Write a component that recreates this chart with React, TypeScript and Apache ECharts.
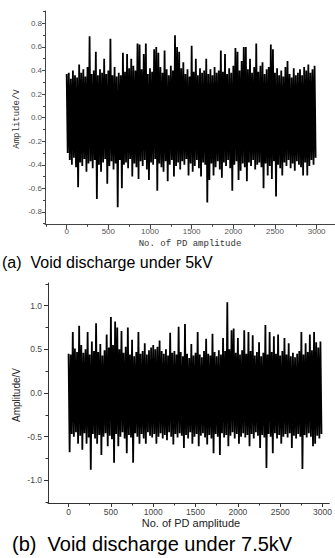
import React, { useEffect, useRef } from "react";
import * as echarts from "echarts";

// Chart (a): Void discharge under 5kV — positive and negative peaks of the pulse train
const A_UP = [
  0.37, 0.38, 0.33, 0.40, 0.36, 0.34, 0.45, 0.38, 0.41, 0.35,
  0.43, 0.69, 0.37, 0.40, 0.56, 0.36, 0.41, 0.38, 0.50, 0.37,
  0.40, 0.67, 0.36, 0.43, 0.35, 0.38, 0.36, 0.55, 0.39, 0.54,
  0.42, 0.50, 0.44, 0.40, 0.63, 0.62, 0.41, 0.54, 0.63, 0.37,
  0.42, 0.39, 0.58, 0.60, 0.55, 0.43, 0.38, 0.57, 0.41, 0.36,
  0.44, 0.40, 0.70, 0.60, 0.56, 0.42, 0.47, 0.37, 0.41, 0.35,
  0.61, 0.39, 0.50, 0.36, 0.42, 0.38, 0.40, 0.50, 0.37, 0.41,
  0.36, 0.43, 0.38, 0.40, 0.57, 0.39, 0.54, 0.37, 0.42, 0.38,
  0.44, 0.59, 0.56, 0.40, 0.48, 0.60, 0.60, 0.41, 0.50, 0.38,
  0.43, 0.63, 0.39, 0.44, 0.47, 0.37, 0.41, 0.43, 0.62, 0.58,
  0.38, 0.42, 0.36, 0.40, 0.35, 0.43, 0.48, 0.37, 0.34, 0.42,
  0.36, 0.38, 0.41, 0.36, 0.43, 0.40, 0.45, 0.38, 0.41, 0.44,
];
const A_LO = [
  -0.30, -0.36, -0.40, -0.34, -0.42, -0.59, -0.38, -0.41, -0.35, -0.46,
  -0.39, -0.37, -0.43, -0.36, -0.69, -0.40, -0.46, -0.38, -0.35, -0.56,
  -0.41, -0.37, -0.44, -0.39, -0.76, -0.36, -0.60, -0.40, -0.38, -0.43,
  -0.35, -0.50, -0.39, -0.42, -0.52, -0.37, -0.41, -0.36, -0.44, -0.53,
  -0.38, -0.40, -0.35, -0.62, -0.39, -0.42, -0.46, -0.37, -0.54, -0.40,
  -0.36, -0.50, -0.41, -0.38, -0.44, -0.37, -0.40, -0.35, -0.49, -0.39,
  -0.46, -0.41, -0.36, -0.43, -0.50, -0.38, -0.40, -0.72, -0.53, -0.39,
  -0.49, -0.42, -0.37, -0.44, -0.51, -0.38, -0.41, -0.36, -0.43, -0.62,
  -0.40, -0.37, -0.53, -0.45, -0.39, -0.42, -0.54, -0.38, -0.41, -0.36,
  -0.44, -0.40, -0.38, -0.42, -0.60, -0.39, -0.49, -0.41, -0.52, -0.37,
  -0.67, -0.40, -0.43, -0.49, -0.38, -0.41, -0.36, -0.43, -0.39, -0.45,
  -0.37, -0.40, -0.42, -0.49, -0.38, -0.49, -0.41, -0.36, -0.40, -0.34,
];

// Chart (b): Void discharge under 7.5kV
const B_UP = [
  0.45, 0.44, 0.70, 0.51, 0.47, 0.77, 0.55, 0.46, 0.50, 0.70,
  0.44, 0.59, 0.48, 0.80, 0.47, 0.56, 0.43, 0.49, 0.67, 0.52,
  0.87, 0.55, 0.82, 0.75, 0.50, 0.71, 0.46, 0.53, 0.75, 0.44,
  0.61, 0.42, 0.47, 0.70, 0.45, 0.48, 0.57, 0.44, 0.49, 0.52,
  0.55, 0.50, 0.53, 0.60, 0.48, 0.45, 0.50, 0.43, 0.69, 0.46,
  0.48, 0.44, 0.76, 0.47, 0.42, 0.79, 0.45, 0.40, 0.56, 0.43,
  0.46, 0.70, 0.44, 0.41, 0.48, 0.62, 0.45, 0.43, 0.68, 0.47,
  0.42, 0.49, 0.44, 0.63, 0.48, 1.04, 0.50, 0.72, 0.74, 0.46,
  0.63, 0.44, 0.49, 0.72, 0.45, 0.70, 0.48, 0.66, 0.43, 0.47,
  0.58, 0.42, 0.46, 0.78, 0.44, 0.70, 0.47, 0.65, 0.45, 0.67,
  0.43, 0.48, 0.63, 0.44, 0.57, 0.42, 0.46, 0.41, 0.45, 0.48,
  0.70, 0.44, 0.57, 0.47, 0.67, 0.49, 0.70, 0.58, 0.52, 0.59,
];
const B_LO = [
  -0.68, -0.47, -0.50, -0.45, -0.58, -0.49, -0.65, -0.46, -0.58, -0.51,
  -0.88, -0.47, -0.52, -0.58, -0.48, -0.71, -0.50, -0.46, -0.61, -0.49,
  -0.53, -0.80, -0.47, -0.61, -0.50, -0.45, -0.52, -0.69, -0.48, -0.51,
  -0.80, -0.46, -0.50, -0.58, -0.47, -0.52, -0.58, -0.45, -0.49, -0.51,
  -0.47, -0.58, -0.50, -0.46, -0.52, -0.48, -0.54, -0.45, -0.50, -0.59,
  -0.47, -0.51, -0.46, -0.49, -0.63, -0.48, -0.52, -0.45, -0.58, -0.50,
  -0.47, -0.61, -0.49, -0.46, -0.51, -0.59, -0.48, -0.52, -0.69, -0.47,
  -0.50, -0.71, -0.46, -0.51, -0.48, -0.61, -0.49, -0.45, -0.52, -0.47,
  -0.58, -0.50, -0.46, -0.51, -0.48, -0.61, -0.47, -0.52, -0.45, -0.49,
  -0.63, -0.48, -0.51, -0.86, -0.47, -0.50, -0.69, -0.46, -0.52, -0.48,
  -0.58, -0.50, -0.47, -0.51, -0.46, -0.63, -0.49, -0.52, -0.47, -0.50,
  -0.87, -0.48, -0.51, -0.46, -0.50, -0.61, -0.58, -0.49, -0.52, -0.47,
];

// Spacing between successive pulses on the x axis ("No. of PD amplitude")
const STEP = 25;

// Tick values
const X_MAJOR = [0, 500, 1000, 1500, 2000, 2500, 3000];
const A_X_MINOR = [-250, 250, 750, 1250, 1750, 2250, 2750];
const B_X_MINOR = [250, 750, 1250, 1750, 2250, 2750];
const A_Y_MAJOR = [-0.8, -0.6, -0.4, -0.2, 0, 0.2, 0.4, 0.6, 0.8];
const A_Y_MINOR = [-0.9, -0.7, -0.5, -0.3, -0.1, 0.1, 0.3, 0.5, 0.7, 0.9];
const B_Y_MAJOR = [-1.0, -0.5, 0, 0.5, 1.0];
const B_Y_MINOR = [-1.25, -0.75, -0.25, 0.25, 0.75, 1.25];

const TITLE_A = "(a)  Void discharge under 5kV";
const TITLE_B = "(b)  Void discharge under 7.5kV";
const X_NAME = "No. of PD amplitude";
const Y_NAME = "Amplitude/V";

function toZigzag(up: number[], lo: number[]): number[][] {
  const out: number[][] = [];
  for (let i = 0; i < up.length; i++) {
    out.push([i * STEP, up[i]]);
    out.push([i * STEP + STEP / 2, lo[i]]);
  }
  return out;
}

export default function App() {
  const ref = useRef<HTMLDivElement>(null);

  useEffect(() => {
    document.body.style.margin = "0";
    if (!ref.current) return;
    const chart = echarts.init(ref.current, undefined, { renderer: "svg" });

    const mkX = (
      grid: number,
      min: number,
      max: number,
      ticks: number[],
      major: boolean,
      len: number,
      color: string,
      labelColor: string,
      fontSize: number,
      margin: number
    ) => ({
      type: "value",
      gridIndex: grid,
      min,
      max,
      position: "bottom",
      axisLine: { show: major, onZero: false, lineStyle: { color, width: 1 } },
      axisTick: {
        show: true,
        inside: false,
        length: len,
        customValues: ticks,
        lineStyle: { color, width: 1 },
      },
      axisLabel: major
        ? {
            show: true,
            customValues: ticks,
            margin,
            fontSize,
            color: labelColor,
            fontFamily: "Liberation Sans, Arial, sans-serif",
            formatter: (v: number) => String(Math.round(v)),
          }
        : { show: false },
      splitLine: { show: false },
    });

    const mkY = (
      grid: number,
      min: number,
      max: number,
      ticks: number[],
      major: boolean,
      len: number,
      color: string,
      labelColor: string,
      fontSize: number,
      margin: number
    ) => ({
      type: "value",
      gridIndex: grid,
      min,
      max,
      position: "left",
      axisLine: { show: major, onZero: false, lineStyle: { color, width: 1 } },
      axisTick: {
        show: true,
        inside: false,
        length: len,
        customValues: ticks,
        lineStyle: { color, width: 1 },
      },
      axisLabel: major
        ? {
            show: true,
            customValues: ticks,
            margin,
            fontSize,
            color: labelColor,
            fontFamily: "Liberation Sans, Arial, sans-serif",
            formatter: (v: number) => v.toFixed(1),
          }
        : { show: false },
      splitLine: { show: false },
    });

    const option: any = {
      animation: false,
      backgroundColor: "#ffffff",
      grid: [
        { left: 45, top: 11, width: 290, height: 213.3 },
        { left: 48, top: 283, width: 287, height: 220 },
      ],
      xAxis: [
        mkX(0, -260, 3220, X_MAJOR, true, 5, "#444", "#555", 8, 3),
        mkX(0, -260, 3220, A_X_MINOR, false, 2.5, "#444", "#555", 8, 3),
        mkX(1, -243, 3080, X_MAJOR, true, 4, "#333", "#444", 8.5, 4),
        mkX(1, -243, 3080, B_X_MINOR, false, 2.5, "#333", "#444", 8.5, 4),
      ],
      yAxis: [
        mkY(0, -0.905, 0.905, A_Y_MAJOR, true, 3, "#444", "#555", 8, 3),
        mkY(0, -0.905, 0.905, A_Y_MINOR, false, 2, "#444", "#555", 8, 3),
        mkY(1, -1.26, 1.26, B_Y_MAJOR, true, 4, "#333", "#444", 8.5, 6),
        mkY(1, -1.26, 1.26, B_Y_MINOR, false, 2.5, "#333", "#444", 8.5, 6),
      ],
      series: [
        {
          type: "line",
          xAxisIndex: 0,
          yAxisIndex: 0,
          data: toZigzag(A_UP, A_LO),
          showSymbol: false,
          symbol: "none",
          silent: true,
          lineStyle: { color: "#000", width: 1.8 },
        },
        {
          type: "line",
          xAxisIndex: 2,
          yAxisIndex: 2,
          data: toZigzag(B_UP, B_LO),
          showSymbol: false,
          symbol: "none",
          silent: true,
          lineStyle: { color: "#000", width: 1.8 },
        },
      ],
      graphic: [
        {
          type: "text",
          x: 16.5,
          y: 119,
          rotation: Math.PI / 2,
          style: {
            text: Y_NAME,
            font: '9px "Liberation Mono", monospace',
            fill: "#333",
            align: "center",
            verticalAlign: "middle",
            textAlign: "center",
            textVerticalAlign: "middle",
          },
        },
        {
          type: "text",
          x: 190,
          y: 243.5,
          style: {
            text: X_NAME,
            font: '9px "Liberation Mono", monospace',
            fill: "#333",
            align: "center",
            verticalAlign: "middle",
            textAlign: "center",
            textVerticalAlign: "middle",
          },
        },
        {
          type: "text",
          x: 2,
          y: 262,
          style: {
            text: TITLE_A,
            font: '16px "Liberation Sans", Arial, sans-serif',
            fill: "#000",
            align: "left",
            verticalAlign: "middle",
            textAlign: "left",
            textVerticalAlign: "middle",
          },
        },
        {
          type: "text",
          x: 16,
          y: 395,
          rotation: Math.PI / 2,
          style: {
            text: Y_NAME,
            font: '10px "Liberation Sans", Arial, sans-serif',
            fill: "#222",
            align: "center",
            verticalAlign: "middle",
            textAlign: "center",
            textVerticalAlign: "middle",
          },
        },
        {
          type: "text",
          x: 191,
          y: 523,
          style: {
            text: X_NAME,
            font: '11px "Liberation Sans", Arial, sans-serif',
            fill: "#222",
            align: "center",
            verticalAlign: "middle",
            textAlign: "center",
            textVerticalAlign: "middle",
          },
        },
        {
          type: "text",
          x: 12,
          y: 544,
          style: {
            text: TITLE_B,
            font: '20px "Liberation Sans", Arial, sans-serif',
            fill: "#000",
            align: "left",
            verticalAlign: "middle",
            textAlign: "left",
            textVerticalAlign: "middle",
          },
        },
      ],
    };

    chart.setOption(option);
    return () => {
      chart.dispose();
    };
  }, []);

  return <div ref={ref} style={{ width: 335, height: 558 }} />;
}
